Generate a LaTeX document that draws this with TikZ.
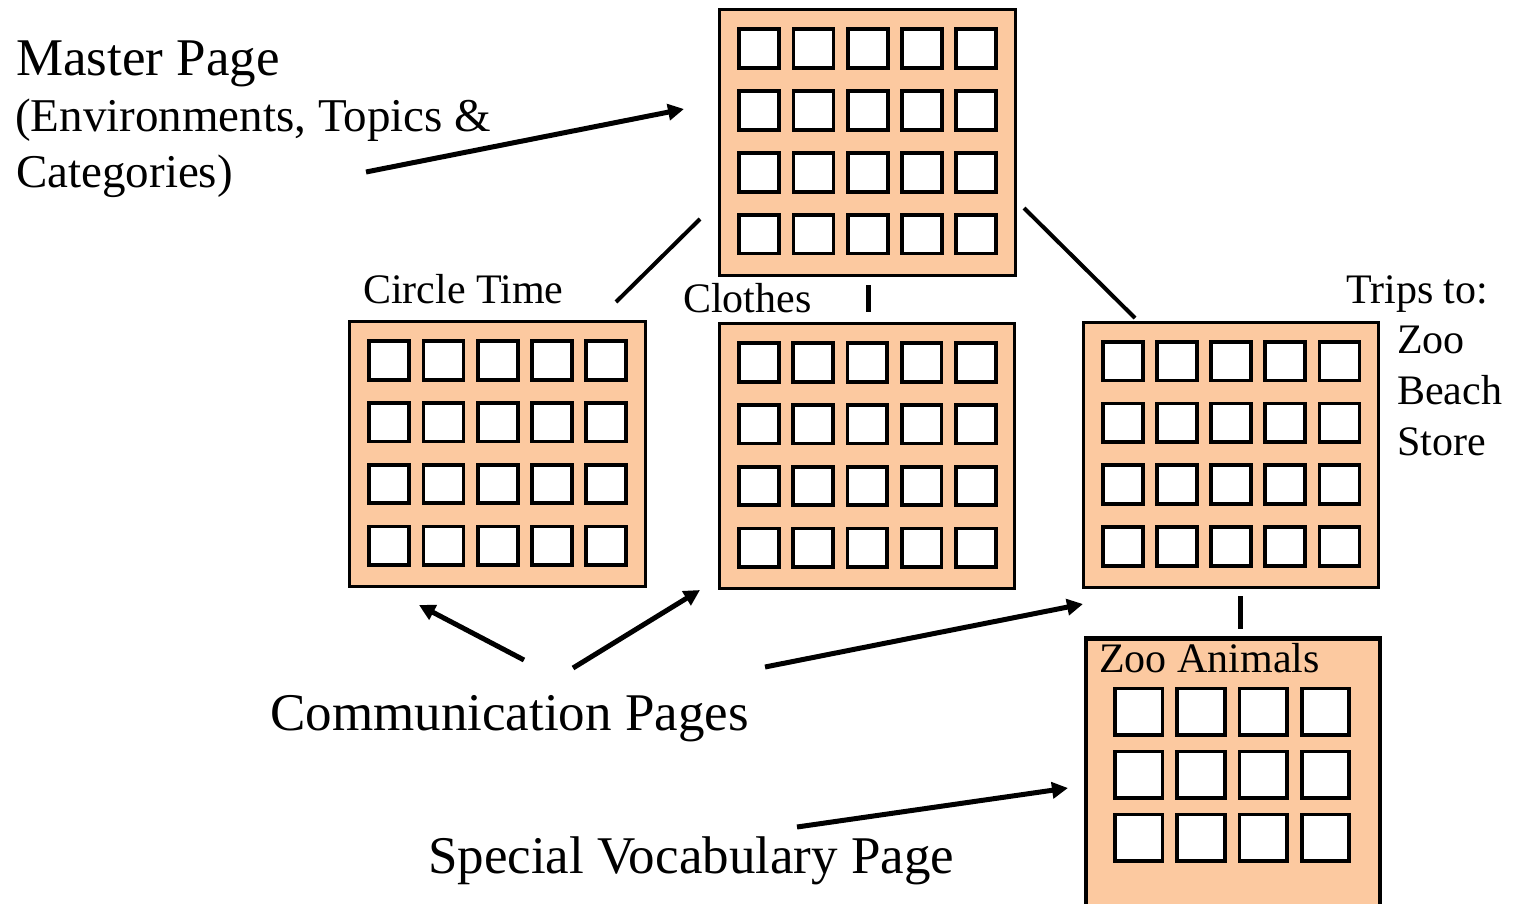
\documentclass[tikz,border=0pt]{standalone}
\usepackage{fontspec}
\setmainfont{Liberation Serif}
\usetikzlibrary{arrows.meta}
\definecolor{peach}{RGB}{252,201,160}

\tikzset{
  board/.style={draw=black, fill=peach, line width=3pt, inner sep=0pt,
                minimum width=295.4pt, minimum height=265.3pt},
  zooboard/.style={draw=black, fill=peach, line width=4.5pt, inner sep=0pt,
                minimum width=293.7pt, minimum height=330pt},
  cell/.style={draw=black, fill=white, line width=3.8pt},
  link/.style={line width=4pt},
  stub/.style={line width=5pt},
  pointer/.style={line width=5pt, -{Triangle[length=16pt,width=16pt]}},
  bigtext/.style={font=\fontsize{53}{56}\selectfont, inner sep=0pt, anchor=base west},
  midtext/.style={font=\fontsize{47}{56}\selectfont, inner sep=0pt, anchor=base west},
  smalltext/.style={font=\fontsize{42}{50}\selectfont, inner sep=0pt, anchor=base west},
}

% grid of white cells: x0, y0, columns, rows, width, height, x pitch, y pitch
\newcommand\cellgrid[8]{%
  \foreach \i in {1,...,#3}{\foreach \j in {1,...,#4}{
    \draw[cell] ({#1+(\i-1)*#7},{#2+(\j-1)*#8}) rectangle ++(#5,#6);
  }}}

% a 5 x 4 communication page: name, left edge, top edge
\newcommand\commpage[3]{%
  \node[board] (#1) at ({#2+149.2},{#3+134.2}) {};
  \cellgrid{#2+21}{#3+21}{5}{4}{39.9}{38.7}{54.2}{61.8}}

\begin{document}
\begin{tikzpicture}[x=1pt,y=-1pt]
\useasboundingbox (0,0) rectangle (1522,903);
\clip (0,0) rectangle (1522,903);

% pages
\commpage{master}{718.3}{8.3}
\commpage{circle}{348.3}{320}
\commpage{clothes}{718}{322}
\commpage{trips}{1081.7}{320.7}

% special vocabulary page, running off the bottom edge
\node[zooboard] (zoo) at (1232.9,803.7) {};
\cellgrid{1115}{688.5}{4}{3}{47.5}{46.5}{62.2}{63}

% page titles
\node[smalltext] (circlelbl) at (363,303) {Circle Time};
\node[smalltext] (clotheslbl) at (683,312) {Clothes};
\node[smalltext] (tripslbl) at (1346,303) {Trips to:};
\node[smalltext] (trip1) at (1397,353) {Zoo};
\node[smalltext] (trip2) at (1397,404) {Beach};
\node[smalltext] (trip3) at (1397,455) {Store};
\node[smalltext] (zoolbl) at (1099,672) {Zoo Animals};

% captions
\node[bigtext] (cap1) at (16,75) {Master Page};
\node[midtext] (cap2) at (15,131) {(Environments, Topics \&};
\node[midtext] (cap3) at (16,187) {Categories)};
\node[bigtext] (commcap) at (270,730) {Communication Pages};
\node[bigtext] (speccap) at (428,873) {Special Vocabulary Page};

% links from the master page to its sub-pages
\coordinate (mL) at (700,219);
\coordinate (cT) at (616,302);
\coordinate (mR) at (1024,208);
\coordinate (tT) at (1135,318);
\draw[link] (mL) -- (cT);
\draw[link] (mR) -- (tT);
\coordinate (mB) at (868,285);
\coordinate (clT) at (868,312);
\draw[stub] (mB) -- (clT);
\coordinate (tB) at (1240,596);
\coordinate (zT) at (1240,629);
\draw[stub] (tB) -- (zT);

% caption pointers
\coordinate (capA) at (366,172);
\coordinate (masterA) at (684,109);
\draw[pointer] (capA) -- (masterA);
\coordinate (c1) at (524,660);
\coordinate (c2) at (573,668);
\coordinate (c3) at (765,667);
\coordinate (circleA) at (419,605);
\coordinate (clothesA) at (700,590);
\coordinate (tripsA) at (1083,604);
\draw[pointer] (c1) -- (circleA);
\draw[pointer] (c2) -- (clothesA);
\draw[pointer] (c3) -- (tripsA);
\coordinate (s1) at (797,827);
\coordinate (zooA) at (1068,788);
\draw[pointer] (s1) -- (zooA);
\end{tikzpicture}
\end{document}
